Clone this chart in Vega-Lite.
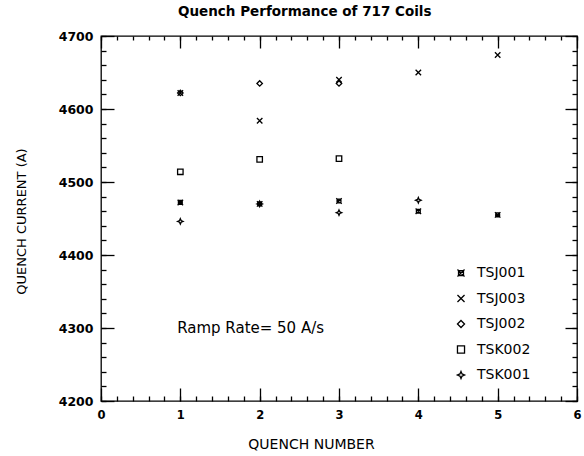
{
  "$schema": "https://vega.github.io/schema/vega-lite/v6.json",
  "width": 476,
  "height": 365,
  "autosize": {"type": "none"},
  "padding": {"left": 101, "top": 36, "right": 7, "bottom": 55},
  "background": "white",
  "title": {"text": "Quench Performance of 717 Coils", "anchor": "start", "frame": "group", "dx": 77, "offset": 12, "font": "DejaVu Sans", "fontSize": 13.5, "fontWeight": "bold", "color": "black"},
  "config": {
    "view": {"stroke": "black", "strokeWidth": 1.3},
    "axis": {"grid": false, "domain": false, "tickColor": "black", "tickWidth": 1.3, "labelColor": "black", "titleColor": "black"}
  },
  "datasets": {
    "pts": [
      {"coil": "TSJ001", "quench": 1, "current": 4472},
      {"coil": "TSJ001", "quench": 2, "current": 4470},
      {"coil": "TSJ001", "quench": 3, "current": 4474},
      {"coil": "TSJ001", "quench": 4, "current": 4460},
      {"coil": "TSJ001", "quench": 5, "current": 4455},
      {"coil": "TSJ003", "quench": 1, "current": 4622},
      {"coil": "TSJ003", "quench": 2, "current": 4584},
      {"coil": "TSJ003", "quench": 3, "current": 4640},
      {"coil": "TSJ003", "quench": 4, "current": 4650},
      {"coil": "TSJ003", "quench": 5, "current": 4674},
      {"coil": "TSJ002", "quench": 1, "current": 4622},
      {"coil": "TSJ002", "quench": 2, "current": 4635},
      {"coil": "TSJ002", "quench": 3, "current": 4635},
      {"coil": "TSK002", "quench": 1, "current": 4514},
      {"coil": "TSK002", "quench": 2, "current": 4531},
      {"coil": "TSK002", "quench": 3, "current": 4532},
      {"coil": "TSK001", "quench": 1, "current": 4446},
      {"coil": "TSK001", "quench": 2, "current": 4470},
      {"coil": "TSK001", "quench": 3, "current": 4458},
      {"coil": "TSK001", "quench": 4, "current": 4475}
    ],
    "note": [{"quench": 0.96, "current": 4300, "label": "Ramp Rate= 50 A/s"}]
  },
  "resolve": {"axis": {"x": "independent", "y": "independent"}},
  "layer": [
    {
      "data": {"name": "pts"},
      "mark": {"type": "point", "filled": false, "strokeWidth": 1.3, "color": "black", "opacity": 1},
      "encoding": {
        "x": {"field": "quench", "type": "quantitative", "scale": {"domain": [0, 6], "nice": false, "zero": false},
          "axis": {"orient": "bottom", "values": [0, 1, 2, 3, 4, 5, 6], "format": "d", "ticks": false, "labelPadding": 8, "labelFont": "DejaVu Sans", "labelFontSize": 11.5, "labelFontWeight": "bold", "labelFlush": false,
            "title": "QUENCH NUMBER", "titleFont": "DejaVu Sans", "titleFontSize": 14, "titleFontWeight": "normal", "titleX": 210, "titleY": 43, "titleBaseline": "middle", "titleAlign": "center"}},
        "y": {"field": "current", "type": "quantitative", "scale": {"domain": [4200, 4700], "nice": false, "zero": false},
          "axis": {"orient": "left", "values": [4200, 4300, 4400, 4500, 4600, 4700], "format": "d", "ticks": false, "labelPadding": 8, "labelFont": "DejaVu Sans", "labelFontSize": 12.5, "labelFontWeight": "bold",
            "title": "QUENCH CURRENT (A)", "titleFont": "DejaVu Sans", "titleFontSize": 13, "titleFontWeight": "normal", "titleX": -80, "titleY": 185, "titleBaseline": "middle", "titleAngle": -90, "titleAlign": "center"}},
        "shape": {"field": "coil", "type": "nominal",
          "scale": {"domain": ["TSJ001", "TSJ003", "TSJ002", "TSK002", "TSK001"],
            "range": ["M-0.7,-0.7H0.7V0.7H-0.7ZM-1,-1L1,1M1,-1L-1,1", "M-1,-1L1,1M1,-1L-1,1", "diamond", "square", "M0,-1L0.3,-0.3L1,0L0.3,0.3L0,1L-0.3,0.3L-1,0L-0.3,-0.3Z"]},
          "legend": {"orient": "none", "legendX": 353, "legendY": 230, "title": null, "labelFont": "DejaVu Sans", "labelFontSize": 14, "labelColor": "black", "symbolSize": 50, "symbolStrokeColor": "black", "symbolFillColor": "transparent", "symbolStrokeWidth": 1.3, "rowPadding": 11.5, "labelOffset": 9}},
        "color": {"value": "black"}
      }
    },
    {
      "data": {"name": "pts"},
      "mark": {"type": "point", "opacity": 0},
      "encoding": {
        "x": {"field": "quench", "type": "quantitative", "axis": {"orient": "bottom", "values": [0, 1, 2, 3, 4, 5, 6], "labels": false, "tickSize": -13, "title": null}},
        "y": {"field": "current", "type": "quantitative", "axis": {"orient": "left", "values": [4200, 4300, 4400, 4500, 4600, 4700], "labels": false, "tickSize": -13, "title": null}}
      }
    },
    {
      "data": {"name": "pts"},
      "mark": {"type": "point", "opacity": 0},
      "encoding": {
        "x": {"field": "quench", "type": "quantitative", "axis": {"orient": "bottom", "values": [0, 0.2, 0.4, 0.6, 0.8, 1, 1.2, 1.4, 1.6, 1.8, 2, 2.2, 2.4, 2.6, 2.8, 3, 3.2, 3.4, 3.6, 3.8, 4, 4.2, 4.4, 4.6, 4.8, 5, 5.2, 5.4, 5.6, 5.8, 6], "labels": false, "tickSize": -5, "title": null}},
        "y": {"field": "current", "type": "quantitative", "axis": {"orient": "left", "values": [4200, 4220, 4240, 4260, 4280, 4300, 4320, 4340, 4360, 4380, 4400, 4420, 4440, 4460, 4480, 4500, 4520, 4540, 4560, 4580, 4600, 4620, 4640, 4660, 4680, 4700], "labels": false, "tickSize": -5, "title": null}}
      }
    },
    {
      "data": {"name": "pts"},
      "mark": {"type": "point", "opacity": 0},
      "encoding": {
        "x": {"field": "quench", "type": "quantitative", "axis": {"orient": "top", "values": [0, 1, 2, 3, 4, 5, 6], "labels": false, "tickSize": -12, "title": null}},
        "y": {"field": "current", "type": "quantitative", "axis": {"orient": "right", "values": [4200, 4300, 4400, 4500, 4600, 4700], "labels": false, "tickSize": -12, "title": null}}
      }
    },
    {
      "data": {"name": "pts"},
      "mark": {"type": "point", "opacity": 0},
      "encoding": {
        "x": {"field": "quench", "type": "quantitative", "axis": {"orient": "top", "values": [0, 0.2, 0.4, 0.6, 0.8, 1, 1.2, 1.4, 1.6, 1.8, 2, 2.2, 2.4, 2.6, 2.8, 3, 3.2, 3.4, 3.6, 3.8, 4, 4.2, 4.4, 4.6, 4.8, 5, 5.2, 5.4, 5.6, 5.8, 6], "labels": false, "tickSize": -4, "title": null}},
        "y": {"field": "current", "type": "quantitative", "axis": {"orient": "right", "values": [4200, 4220, 4240, 4260, 4280, 4300, 4320, 4340, 4360, 4380, 4400, 4420, 4440, 4460, 4480, 4500, 4520, 4540, 4560, 4580, 4600, 4620, 4640, 4660, 4680, 4700], "labels": false, "tickSize": -5, "title": null}}
      }
    },
    {
      "data": {"name": "note"},
      "mark": {"type": "text", "align": "left", "baseline": "middle", "font": "DejaVu Sans", "fontSize": 15, "color": "black"},
      "encoding": {
        "x": {"field": "quench", "type": "quantitative", "axis": null},
        "y": {"field": "current", "type": "quantitative", "axis": null},
        "text": {"field": "label"}
      }
    }
  ]
}
